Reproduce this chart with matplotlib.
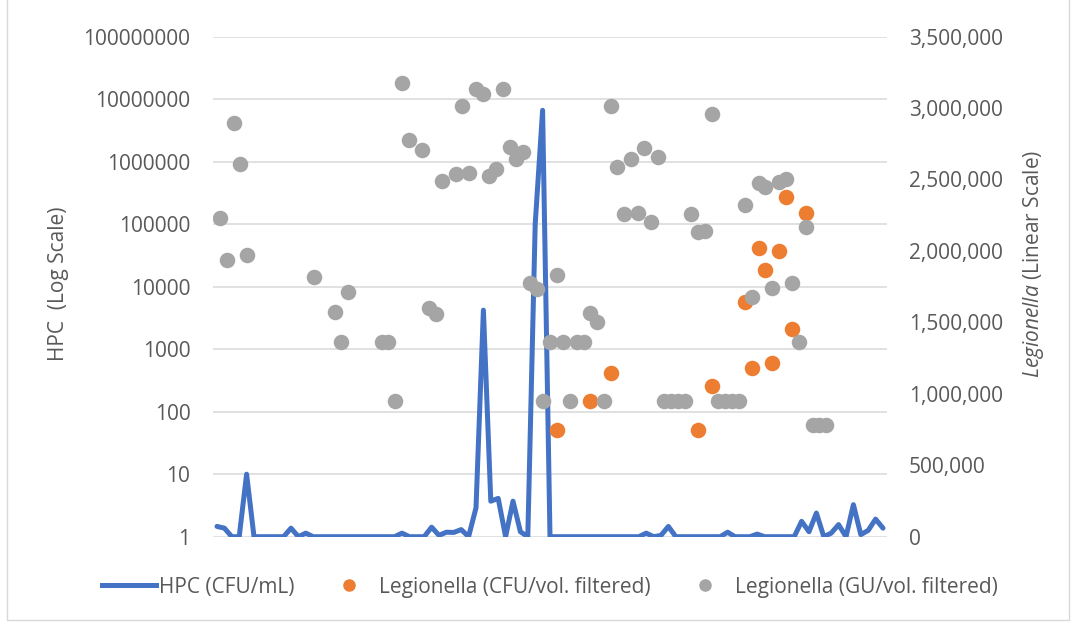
import matplotlib
matplotlib.use("Agg")
import matplotlib.pyplot as plt
from matplotlib.lines import Line2D
from matplotlib.patches import Rectangle
from matplotlib.ticker import FixedLocator, FuncFormatter

plt.rcParams['font.family'] = ['Open Sans', 'DejaVu Sans']
plt.rcParams['mathtext.fontset'] = 'custom'
plt.rcParams['mathtext.it'] = 'Open Sans:italic'
plt.rcParams['mathtext.rm'] = 'Open Sans'

# HPC (CFU/mL), one value per sample -> log axis
hpc = [1.46, 1.37, 1, 1, 10, 1, 1, 1, 1, 1,
       1.37, 1, 1.14, 1, 1, 1, 1, 1, 1, 1,
       1, 1, 1, 1, 1, 1.14, 1, 1, 1, 1.42,
       1.05, 1.18, 1.17, 1.3, 1, 2.9, 4200, 3.7, 4.1, 1,
       3.7, 1.2, 1, 100000, 6600000, 1, 1, 1, 1, 1,
       1, 1, 1, 1, 1, 1, 1, 1, 1.14, 1,
       1.05, 1.46, 1, 1, 1, 1, 1, 1, 1, 1.18,
       1, 1, 1, 1.1, 1, 1, 1, 1, 1, 1.76,
       1.2, 2.39, 1, 1.14, 1.56, 1, 3.25, 1.08, 1.26, 1.91,
       1.37]

# Legionella samples (sample no. / value) -> linear axis
cfu_idx = [51, 56, 59, 72, 74, 79, 80, 81, 82, 83, 84, 85, 86, 88]
cfu_val = [747000, 952000, 1143000, 747000, 1054000, 1644000, 1183000,
           2022000, 1866000, 1218000, 1999000, 2375000, 1451000, 2267000]

gu_idx = [1, 2, 3, 4, 5, 15, 18, 19, 20, 25, 26, 27, 28, 29, 31, 32, 33, 34,
          36, 37, 38, 39, 40, 41, 42, 43, 44, 45, 46, 47, 48,
          49, 50, 51, 52, 53, 54, 55, 56, 57, 58,
          59, 60, 61, 62, 63, 64, 65, 66, 67, 68, 69, 70,
          71, 72, 73, 74, 75, 76, 77, 78,
          79, 80, 81, 82, 83, 84, 85, 86, 87, 88, 89, 90, 91]
gu_val = [2228000, 1936000, 2893000, 2606000, 1971000, 1815000, 1574000, 1364000,
          1714000, 1364000, 1364000, 952000, 3175000, 2776000, 2706000, 1600000,
          1556000, 2489000,
          2536000, 3016000, 2547000, 3133000, 3098000, 2524000, 2571000, 3133000,
          2729000, 2643000, 2694000, 1773000, 1733000,
          952000, 1364000, 1831000, 1364000, 952000, 1364000, 1364000, 1563000,
          1504000, 952000,
          3014000, 2585000, 2256000, 2643000, 2267000, 2718000, 2204000, 2659000,
          952000, 952000, 952000, 952000,
          2256000, 2134000, 2141000, 2956000, 952000, 952000, 952000, 952000,
          2321000, 1679000, 2473000, 2445000, 1738000, 2480000, 2501000, 1773000,
          1364000, 2169000, 782000, 782000, 782000]

left_ticks = [1, 10, 100, 1000, 10000, 100000, 1000000, 10000000, 100000000]
right_ticks = [0, 500000, 1000000, 1500000, 2000000, 2500000, 3000000, 3500000]

BLUE = '#4472C4'
ORANGE = '#ED7D31'
GRAY = '#A5A5A5'
TXT = '#595959'

fig = plt.figure(figsize=(10.76, 6.24), dpi=100)
rect = [213.3 / 1076, 1 - 536.7 / 624, 673.4 / 1076, 500.2 / 624]
ax = fig.add_axes(rect)
ax2 = fig.add_axes(rect, label='secondary', frameon=False)

# primary: HPC line on log scale
ax.plot(range(len(hpc)), hpc, color=BLUE, lw=3.6, solid_joinstyle='round',
        solid_capstyle='round', zorder=3)
ax.set_yscale('log')
ax.set_ylim(1, 1e8)
ax.set_xlim(-0.5, len(hpc) - 0.5)
ax.yaxis.set_major_locator(FixedLocator(left_ticks))
ax.yaxis.set_minor_locator(FixedLocator([]))
ax.yaxis.set_major_formatter(FuncFormatter(lambda v, p: f"{int(round(v))}"))
ax.set_xticks([])
ax.grid(axis='y', color='#D9D9D9', lw=1.1)
ax.set_axisbelow(True)
ax.tick_params(axis='y', length=0, pad=16.5, labelsize=15, labelcolor=TXT)
ax.set_ylabel("HPC  (Log Scale)", fontsize=15, color=TXT, va='center')
ax.yaxis.set_label_coords((58 - 213.3) / 673.4, 0.506)
for s in ax.spines.values():
    s.set_visible(False)

# secondary: Legionella scatter on linear scale
ax2.patch.set_visible(False)
ax2.scatter(cfu_idx, cfu_val, s=125, color=ORANGE, lw=0, zorder=4)
ax2.scatter(gu_idx, gu_val, s=125, color=GRAY, lw=0, zorder=5)
ax2.set_xlim(0, 100)
ax2.set_ylim(0, 3500000)
ax2.xaxis.set_visible(False)
ax2.yaxis.tick_right()
ax2.yaxis.set_label_position('right')
ax2.yaxis.set_major_locator(FixedLocator(right_ticks))
ax2.yaxis.set_major_formatter(FuncFormatter(lambda v, p: f"{v:,.0f}"))
ax2.tick_params(axis='y', length=0, pad=16, labelsize=15, labelcolor=TXT)
ax2.set_ylabel(r"$\it{Legionella}$ (Linear Scale)", fontsize=15, color=TXT,
               rotation=90, va='center')
ax2.yaxis.set_label_coords((1033 - 213.3) / 673.4, 0.546)

handles = [Line2D([], [], color=BLUE, lw=3.6),
           Line2D([], [], color=ORANGE, marker='o', ls='', markersize=8),
           Line2D([], [], color=GRAY, marker='o', ls='', markersize=8)]
labels = ["HPC (CFU/mL)", "Legionella (CFU/vol. filtered)", "Legionella (GU/vol. filtered)"]
fig.legend(handles, labels, loc='center', bbox_to_anchor=(550 / 1076, 1 - 587 / 624),
           ncol=3, frameon=False, fontsize=15, labelcolor=TXT,
           handlelength=2.6, handletextpad=0.15, columnspacing=1.3)

fig.patches.append(Rectangle((7 / 1076, 4 / 624), 1062 / 1076, 640 / 624,
                             transform=fig.transFigure, fill=False,
                             ec='#D9D9D9', lw=1))

fig.savefig('out.png', dpi=100)
